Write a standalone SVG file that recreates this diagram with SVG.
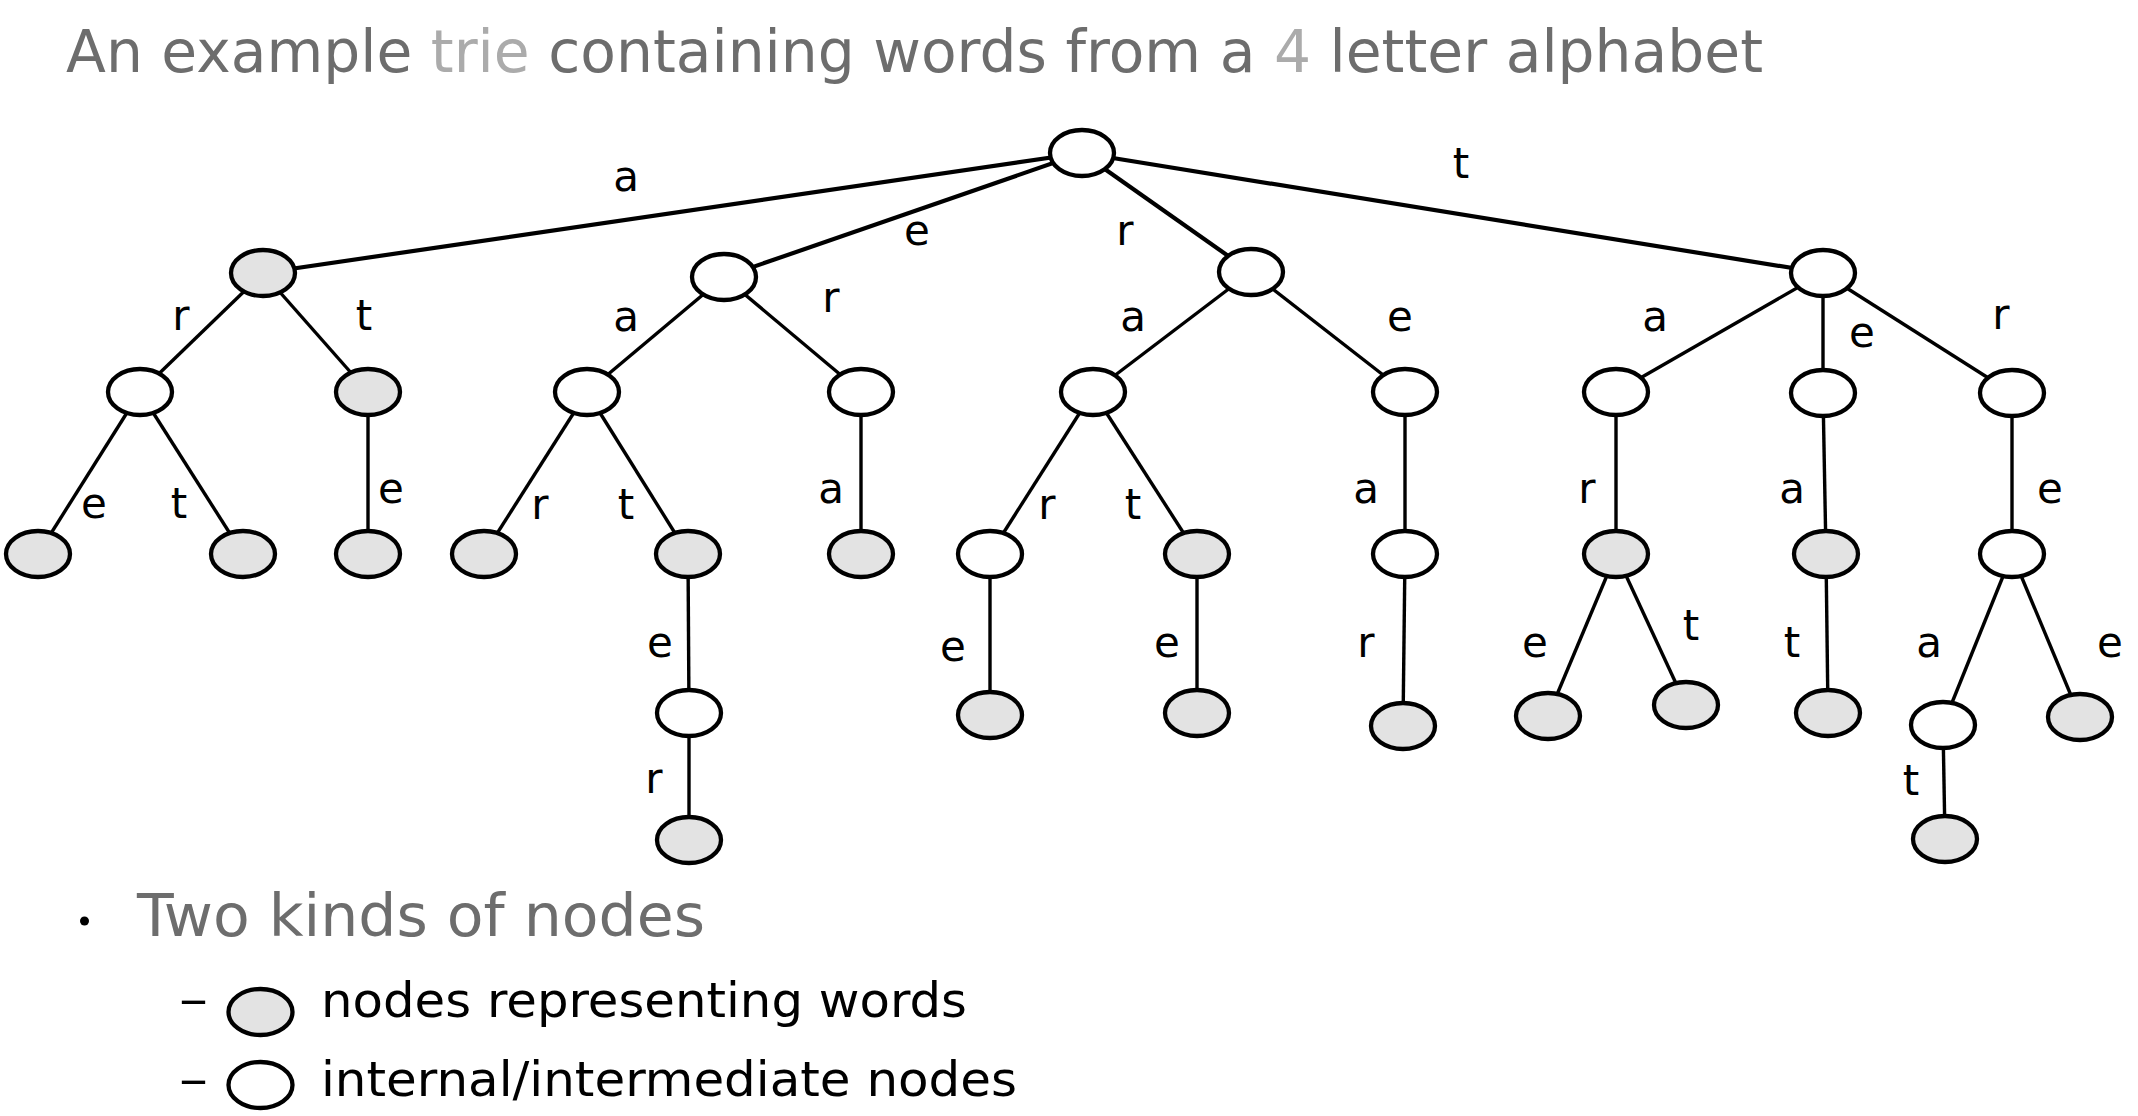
<svg xmlns="http://www.w3.org/2000/svg" width="2138" height="1116" viewBox="0 0 2138 1116">
<style>
.n ellipse{stroke:#000;stroke-width:4.3}
.w{fill:#fff}
.g{fill:#e3e3e3}
#edges line{stroke:#000;stroke-width:3.4}
#edges line.top{stroke-width:4.2}
.lbl{font-family:"DejaVu Sans",sans-serif;font-size:42px;fill:#000;text-anchor:middle}
.ttl{font-family:"DejaVu Sans",sans-serif;font-size:58px;fill:#6d6d6d}
.leg{font-family:"DejaVu Sans",sans-serif;font-size:48px;fill:#000}
</style>
<rect width="2138" height="1116" fill="#fff"/>
<text class="ttl" x="66" y="72" textLength="1697" lengthAdjust="spacingAndGlyphs">An example <tspan fill="#ababab">trie</tspan> containing words from a <tspan fill="#ababab">4</tspan> letter alphabet</text>
<g id="edges">
<line class="top" x1="1082" y1="153" x2="263" y2="273"/>
<line class="top" x1="1082" y1="153" x2="724" y2="277"/>
<line class="top" x1="1082" y1="153" x2="1251" y2="272"/>
<line class="top" x1="1082" y1="153" x2="1823" y2="273"/>
<line x1="263" y1="273" x2="140" y2="392"/>
<line x1="263" y1="273" x2="368" y2="392"/>
<line x1="724" y1="277" x2="587" y2="392"/>
<line x1="724" y1="277" x2="861" y2="392"/>
<line x1="1251" y1="272" x2="1093" y2="392"/>
<line x1="1251" y1="272" x2="1405" y2="392"/>
<line x1="1823" y1="273" x2="1616" y2="392"/>
<line x1="1823" y1="273" x2="1823" y2="393"/>
<line x1="1823" y1="273" x2="2012" y2="393"/>
<line x1="140" y1="392" x2="38" y2="554"/>
<line x1="140" y1="392" x2="243" y2="554"/>
<line x1="368" y1="392" x2="368" y2="554"/>
<line x1="587" y1="392" x2="484" y2="554"/>
<line x1="587" y1="392" x2="688" y2="554"/>
<line x1="861" y1="392" x2="861" y2="554"/>
<line x1="1093" y1="392" x2="990" y2="554"/>
<line x1="1093" y1="392" x2="1197" y2="554"/>
<line x1="1405" y1="392" x2="1405" y2="554"/>
<line x1="1616" y1="392" x2="1616" y2="554"/>
<line x1="1823" y1="393" x2="1826" y2="554"/>
<line x1="2012" y1="393" x2="2012" y2="554"/>
<line x1="688" y1="554" x2="689" y2="713"/>
<line x1="990" y1="554" x2="990" y2="715"/>
<line x1="1197" y1="554" x2="1197" y2="713"/>
<line x1="1405" y1="554" x2="1403" y2="726"/>
<line x1="1616" y1="554" x2="1548" y2="716"/>
<line x1="1616" y1="554" x2="1686" y2="705"/>
<line x1="1826" y1="554" x2="1828" y2="713"/>
<line x1="2012" y1="554" x2="1943" y2="725"/>
<line x1="2012" y1="554" x2="2080" y2="717"/>
<line x1="689" y1="713" x2="689" y2="840"/>
<line x1="1943" y1="725" x2="1945" y2="839"/>
</g>
<g id="labels">
<text class="lbl" x="626" y="191">a</text>
<text class="lbl" x="917" y="245">e</text>
<text class="lbl" x="1125" y="245">r</text>
<text class="lbl" x="1461" y="178">t</text>
<text class="lbl" x="181" y="330">r</text>
<text class="lbl" x="364" y="330">t</text>
<text class="lbl" x="626" y="331">a</text>
<text class="lbl" x="831" y="312">r</text>
<text class="lbl" x="1133" y="331">a</text>
<text class="lbl" x="1400" y="331">e</text>
<text class="lbl" x="1655" y="331">a</text>
<text class="lbl" x="1862" y="347">e</text>
<text class="lbl" x="2001" y="329">r</text>
<text class="lbl" x="94" y="518">e</text>
<text class="lbl" x="179" y="518">t</text>
<text class="lbl" x="391" y="503">e</text>
<text class="lbl" x="540" y="519">r</text>
<text class="lbl" x="626" y="519">t</text>
<text class="lbl" x="831" y="503">a</text>
<text class="lbl" x="1047" y="519">r</text>
<text class="lbl" x="1133" y="519">t</text>
<text class="lbl" x="1366" y="503">a</text>
<text class="lbl" x="1587" y="503">r</text>
<text class="lbl" x="1792" y="503">a</text>
<text class="lbl" x="2050" y="503">e</text>
<text class="lbl" x="660" y="657">e</text>
<text class="lbl" x="953" y="661">e</text>
<text class="lbl" x="1167" y="657">e</text>
<text class="lbl" x="1366" y="657">r</text>
<text class="lbl" x="1535" y="657">e</text>
<text class="lbl" x="1691" y="640">t</text>
<text class="lbl" x="1792" y="657">t</text>
<text class="lbl" x="1929" y="657">a</text>
<text class="lbl" x="2110" y="657">e</text>
<text class="lbl" x="654" y="793">r</text>
<text class="lbl" x="1911" y="795">t</text>
</g>
<g id="n-root" class="n"><ellipse class="w" cx="1082" cy="153" rx="32" ry="23"/></g>
<g id="n-a" class="n"><ellipse class="g" cx="263" cy="273" rx="32" ry="23"/></g>
<g id="n-e" class="n"><ellipse class="w" cx="724" cy="277" rx="32" ry="23"/></g>
<g id="n-r" class="n"><ellipse class="w" cx="1251" cy="272" rx="32" ry="23"/></g>
<g id="n-t" class="n"><ellipse class="w" cx="1823" cy="273" rx="32" ry="23"/></g>
<g id="n-ar" class="n"><ellipse class="w" cx="140" cy="392" rx="32" ry="23"/></g>
<g id="n-at" class="n"><ellipse class="g" cx="368" cy="392" rx="32" ry="23"/></g>
<g id="n-ea" class="n"><ellipse class="w" cx="587" cy="392" rx="32" ry="23"/></g>
<g id="n-er" class="n"><ellipse class="w" cx="861" cy="392" rx="32" ry="23"/></g>
<g id="n-ra" class="n"><ellipse class="w" cx="1093" cy="392" rx="32" ry="23"/></g>
<g id="n-re" class="n"><ellipse class="w" cx="1405" cy="392" rx="32" ry="23"/></g>
<g id="n-ta" class="n"><ellipse class="w" cx="1616" cy="392" rx="32" ry="23"/></g>
<g id="n-te" class="n"><ellipse class="w" cx="1823" cy="393" rx="32" ry="23"/></g>
<g id="n-tr" class="n"><ellipse class="w" cx="2012" cy="393" rx="32" ry="23"/></g>
<g id="n-are" class="n"><ellipse class="g" cx="38" cy="554" rx="32" ry="23"/></g>
<g id="n-art" class="n"><ellipse class="g" cx="243" cy="554" rx="32" ry="23"/></g>
<g id="n-ate" class="n"><ellipse class="g" cx="368" cy="554" rx="32" ry="23"/></g>
<g id="n-ear" class="n"><ellipse class="g" cx="484" cy="554" rx="32" ry="23"/></g>
<g id="n-eat" class="n"><ellipse class="g" cx="688" cy="554" rx="32" ry="23"/></g>
<g id="n-era" class="n"><ellipse class="g" cx="861" cy="554" rx="32" ry="23"/></g>
<g id="n-rar" class="n"><ellipse class="w" cx="990" cy="554" rx="32" ry="23"/></g>
<g id="n-rat" class="n"><ellipse class="g" cx="1197" cy="554" rx="32" ry="23"/></g>
<g id="n-rea" class="n"><ellipse class="w" cx="1405" cy="554" rx="32" ry="23"/></g>
<g id="n-tar" class="n"><ellipse class="g" cx="1616" cy="554" rx="32" ry="23"/></g>
<g id="n-tea" class="n"><ellipse class="g" cx="1826" cy="554" rx="32" ry="23"/></g>
<g id="n-tre" class="n"><ellipse class="w" cx="2012" cy="554" rx="32" ry="23"/></g>
<g id="n-eate" class="n"><ellipse class="w" cx="689" cy="713" rx="32" ry="23"/></g>
<g id="n-rare" class="n"><ellipse class="g" cx="990" cy="715" rx="32" ry="23"/></g>
<g id="n-rate" class="n"><ellipse class="g" cx="1197" cy="713" rx="32" ry="23"/></g>
<g id="n-rear" class="n"><ellipse class="g" cx="1403" cy="726" rx="32" ry="23"/></g>
<g id="n-tare" class="n"><ellipse class="g" cx="1548" cy="716" rx="32" ry="23"/></g>
<g id="n-tart" class="n"><ellipse class="g" cx="1686" cy="705" rx="32" ry="23"/></g>
<g id="n-teat" class="n"><ellipse class="g" cx="1828" cy="713" rx="32" ry="23"/></g>
<g id="n-trea" class="n"><ellipse class="w" cx="1943" cy="725" rx="32" ry="23"/></g>
<g id="n-tree" class="n"><ellipse class="g" cx="2080" cy="717" rx="32" ry="23"/></g>
<g id="n-eater" class="n"><ellipse class="g" cx="689" cy="840" rx="32" ry="23"/></g>
<g id="n-treat" class="n"><ellipse class="g" cx="1945" cy="839" rx="32" ry="23"/></g>
<g id="legend">
<circle cx="84.5" cy="921" r="4.5" fill="#000"/>
<text class="ttl" x="137" y="936" textLength="568" lengthAdjust="spacingAndGlyphs">Two kinds of nodes</text>
<text class="leg" x="179" y="1016" fill="#444" textLength="29" lengthAdjust="spacingAndGlyphs">–</text>
<g class="n"><ellipse class="g" cx="260.5" cy="1012" rx="32" ry="23"/></g>
<text class="leg" x="321" y="1017" textLength="646" lengthAdjust="spacingAndGlyphs">nodes representing words</text>
<text class="leg" x="179" y="1096" fill="#444" textLength="29" lengthAdjust="spacingAndGlyphs">–</text>
<g class="n"><ellipse class="w" cx="260.5" cy="1085" rx="32" ry="23"/></g>
<text class="leg" x="321" y="1096" textLength="696" lengthAdjust="spacingAndGlyphs">internal/intermediate nodes</text>
</g>
</svg>
